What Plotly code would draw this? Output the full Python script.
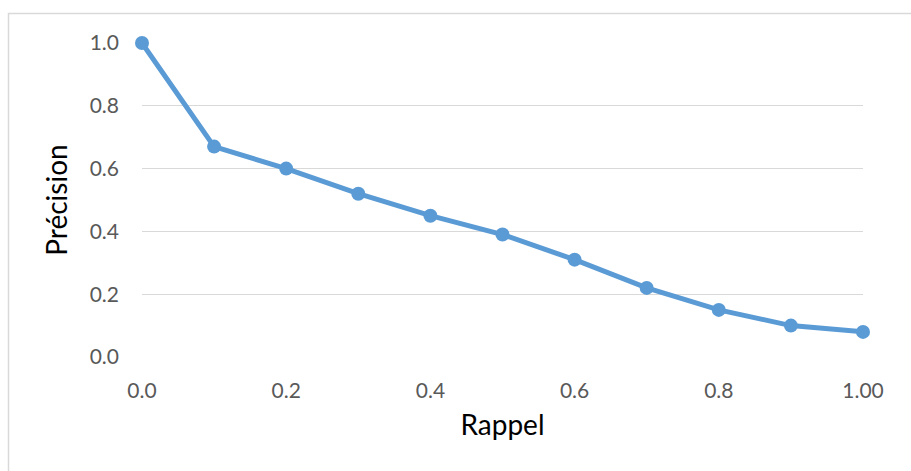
import plotly.graph_objects as go

recall = [0.0, 0.1, 0.2, 0.3, 0.4, 0.5, 0.6, 0.7, 0.8, 0.9, 1.0]
precision = [1.0, 0.67, 0.60, 0.52, 0.45, 0.39, 0.31, 0.22, 0.15, 0.10, 0.08]
x_tickvals = [0.0, 0.2, 0.4, 0.6, 0.8, 1.0]
x_ticktext = ["0.0", "0.2", "0.4", "0.6", "0.8", "1.00"]
y_tickvals = [0.0, 0.2, 0.4, 0.6, 0.8, 1.0]
y_ticktext = ["0.0", "0.2", "0.4", "0.6", "0.8", "1.0"]

FONT = "Lato, 'Open Sans', sans-serif"

fig = go.Figure()
fig.add_trace(go.Scatter(
    x=recall, y=precision, mode="lines+markers",
    line=dict(color="#5B9BD5", width=5),
    marker=dict(color="#5B9BD5", size=14),
    cliponaxis=False, showlegend=False,
))

fig.update_layout(
    width=911, height=471,
    margin=dict(l=142, r=48, t=43, b=114),
    paper_bgcolor="white", plot_bgcolor="white",
    font=dict(family=FONT, color="#595959", size=21),
    xaxis=dict(
        range=[0, 1], tickvals=x_tickvals, ticktext=x_ticktext,
        showgrid=False, zeroline=False, showline=False, ticks="",
        ticklabelstandoff=19,
        title=dict(text="Rappel", font=dict(size=28, color="#000000", family=FONT), standoff=14),
    ),
    yaxis=dict(
        range=[0, 1], tickvals=y_tickvals, ticktext=y_ticktext,
        showgrid=True, gridcolor="#D9D9D9", gridwidth=1.3,
        zeroline=False, showline=False, ticks="",
        ticklabelstandoff=22,
        title=dict(text="Précision", font=dict(size=28, color="#000000", family=FONT), standoff=13),
    ),
    shapes=[dict(
        type="rect", xref="paper", yref="paper",
        x0=(8.5 - 142) / 721, x1=1.3, y0=-0.6, y1=(357 - 13.5) / 314,
        line=dict(color="#D9D9D9", width=1.5), fillcolor="rgba(0,0,0,0)", layer="below",
    )],
)

fig.write_html("out.html")
